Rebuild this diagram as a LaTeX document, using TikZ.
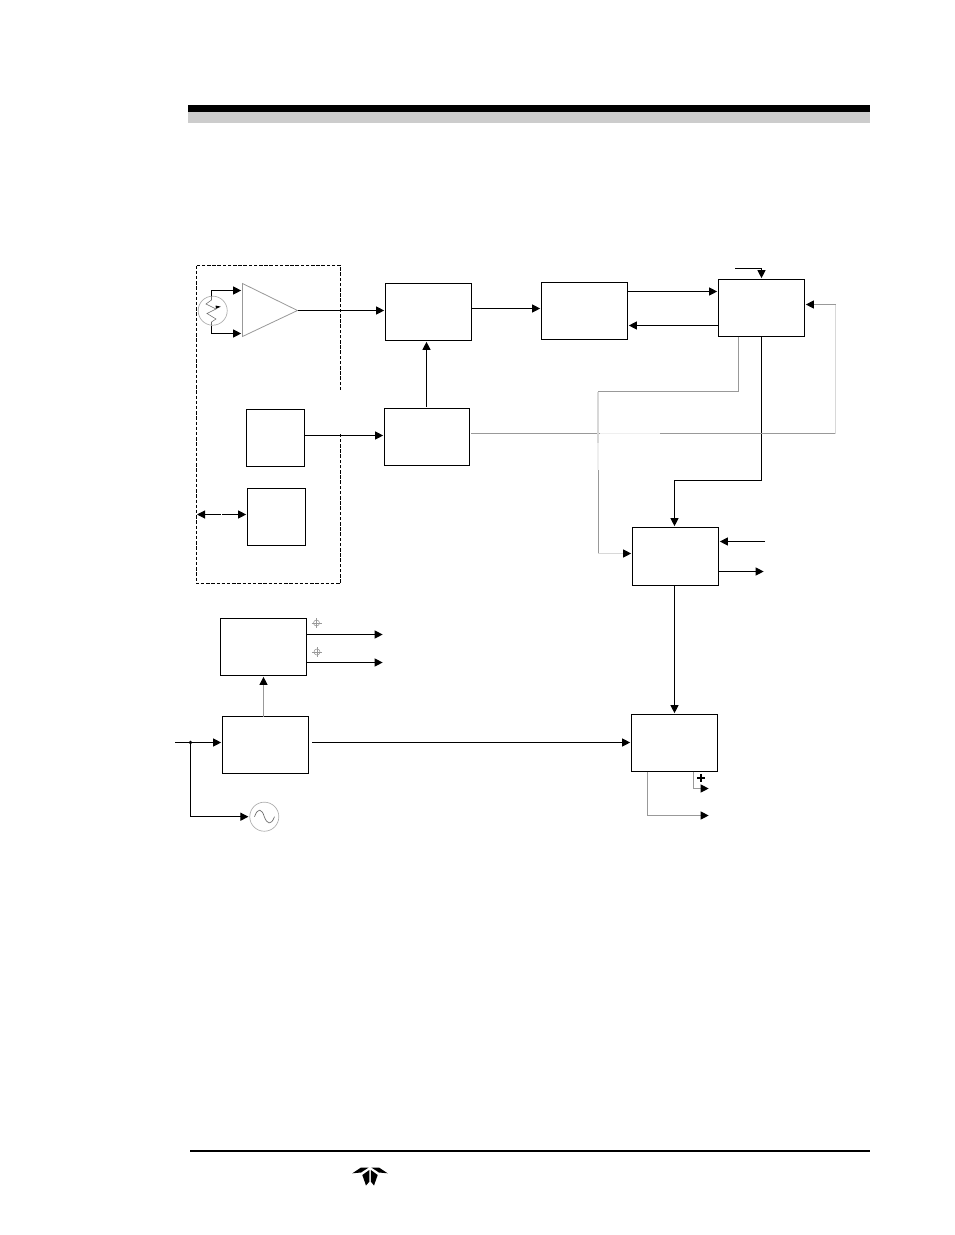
\documentclass[tikz,border=0pt]{standalone}
\usetikzlibrary{arrows.meta,calc}
\definecolor{wire}{HTML}{999999}
\definecolor{pale}{HTML}{D8D8D8}
\definecolor{faint}{HTML}{EFEFEF}
\tikzset{
  blk/.style={draw=black,line width=0.85pt,fill=white,inner sep=0pt,outer sep=0pt,minimum height=42.75pt},
  wide/.style={blk,minimum width=64.5pt},
  slim/.style={blk,minimum width=43.5pt},
  conn/.style={draw=black,line width=0.8pt,-{Triangle[length=6pt,width=6pt]},shorten >=1pt},
  gconn/.style={draw=wire,line width=0.75pt,-{Triangle[length=6pt,width=6pt,color=black]},shorten >=1pt},
  sym/.style={circle,draw=wire!80,line width=0.5pt,fill=white,inner sep=0pt,outer sep=0pt,minimum size=21.8pt}
}
\begin{document}
\begin{tikzpicture}[x=0.75pt,y=-0.75pt]
\useasboundingbox (0,0) rectangle (954,1235);
% header and footer
\fill[black] (188,105) rectangle (870,111.5);
\fill[black!20] (188,111.5) rectangle (870,123);
\draw[black,line width=1.1pt] (190,1151) -- (870,1151);
% logo
\fill[black] (352.3,1173.3) -- (361,1167.5) -- (368.7,1167.5) -- (361,1172.5) -- cycle;
\fill[black] (387.7,1173.3) -- (379,1167.5) -- (371.3,1167.5) -- (379,1172.5) -- cycle;
\fill[black] (362.3,1175) -- (369.3,1170) -- (369.3,1181.7) -- (366,1185.5) -- cycle;
\fill[black] (377.7,1175) -- (370.9,1170) -- (370.9,1181.7) -- (374,1185.5) -- cycle;
% dashed enclosure
\draw[black,line width=0.75pt,dash pattern=on 2.6pt off 1.3pt] (196.5,265.5) rectangle (340.5,583.5);
\fill[white] (338,390) rectangle (343,432);
% blocks
\node[wide] (A) at (428.5,312) {};
\node[wide,minimum width=63.75pt] (B) at (427,437) {};
\node[slim] (C) at (275.5,438) {};
\node[slim] (D) at (276.5,517) {};
\node[wide] (E) at (584.5,311) {};
\node[wide] (F) at (761.5,308) {};
\node[wide,minimum height=43.5pt] (G) at (675.5,556.5) {};
\node[wide] (H) at (674.5,743) {};
\node[wide] (I) at (263.5,647) {};
\node[wide] (J) at (265.5,745) {};
% amplifier
\coordinate (AMPout) at (297.5,310.5);
\draw[wire,line width=0.6pt,fill=white] (242.5,283.5) -- (AMPout) -- (242.5,336.5) -- cycle;
% sensor and source
\node[sym] (S) at (212.7,310.7) {};
\draw[wire!70!black,line width=0.4pt] (211.5,296) -- (211.5,300) -- (206,304) -- (216,309) -- (207,313.5) -- (216,319) -- (211.5,322) -- (211.5,325.5);
\fill[black] (220.8,306.7) -- (215.5,305.5) -- (216,308.8) -- cycle;
\node[sym] (AC) at (264.3,816.7) {};
\draw[wire!70!black,line width=0.5pt] (254.5,816.7) .. controls (258,807) and (262,809) .. (264.3,816.7) .. controls (267,824) and (271,826) .. (274.5,816.7);
% named ends and bends
\coordinate (inA) at (175,742.5);
\coordinate (tap) at (190.5,742.5);
\coordinate (tapEnd) at (190.5,817.5);
\coordinate (outJ) at (312,742.5);
\coordinate (topF) at (735,268.5);
\coordinate (gin) at (765,541.5);
\coordinate (gout) at (765,571.5);
\coordinate (o1) at (384,634.5);
\coordinate (o2) at (384,662.5);
\coordinate (hp) at (710,788.5);
\coordinate (hn) at (710,815.5);
\coordinate (hpS) at (693.5,771.5);
\coordinate (hnS) at (647.5,771.5);
\coordinate (busL) at (197,514.5);
\coordinate (ba) at (426.5,406.5);
\coordinate (bendFG) at (674.5,480.5);
\coordinate (sT) at (211.5,296);
\coordinate (sB) at (211.5,325.5);
\coordinate (a1) at (242.5,290.5);
\coordinate (a2) at (242.5,333.5);
\coordinate (bOut) at (471,433.5);
\coordinate (bR) at (835.5,433.5);
\coordinate (fR) at (835.5,304.5);
\coordinate (fS) at (738.5,336.5);
\coordinate (r1) at (598,391.5);
\coordinate (r2) at (598,553.5);
% connectors
\draw[conn] (AMPout) -- (AMPout -| A.west);
\draw[conn] ([yshift=1.875pt]C.east) -- ([yshift=1.875pt]C.east -| B.west);
\draw[conn] (ba) -- (ba |- A.south);
\draw[conn] ([yshift=2.625pt]A.east) -- ([yshift=2.625pt]A.east -| E.west);
\draw[conn] ([yshift=14.625pt]E.east) -- ([yshift=14.625pt]E.east -| F.west);
\draw[conn] ([yshift=-13.125pt]F.west) -- ([yshift=-13.125pt]F.west -| E.east);
\draw[conn] (topF) -| (F.north);
\draw[conn] (F.south) |- (bendFG) -- (bendFG |- G.north);
\draw[conn] (gin) -- (gin -| G.east);
\draw[conn] (G.east |- gout) -- (gout);
\draw[conn] (H.north |- G.south) -- (H.north);
\draw[conn] (outJ) -- (outJ -| H.west);
\draw[conn] (inA) -- (inA -| J.west);
\fill[black] (tap) circle (1.8);
\draw[conn] (tap) |- (AC.west);
\draw[gconn] (I.south |- J.north) -- (I.south);
\draw[conn] (I.east |- o1) -- (o1);
\draw[conn] (I.east |- o2) -- (o2);
\draw[conn] (sT) |- (a1);
\draw[conn] (sB) |- (a2);
\draw[conn,{Triangle[length=6pt,width=6pt]}-{Triangle[length=6pt,width=6pt]},shorten <=0pt] (busL) -- (busL -| D.west);
\fill[white] (220.5,513) rectangle (222,516);
% grey connectors
\draw[wire,line width=0.75pt] (bOut) -- (bR);
\draw[faint,line width=0.9pt] (600,433.5) -- (660,433.5);
\draw[pale,line width=0.9pt] (bR) -- (fR);
\draw[gconn] (fR) -- (fR -| F.east);
\draw[wire,line width=0.75pt] (fS) |- (r1);
\draw[pale,line width=0.9pt] (r1) -- (598,443);
\draw[faint,line width=0.9pt] (598,443) -- (598,470);
\draw[wire,line width=0.75pt] (598,470) -- (r2);
\draw[pale,line width=0.9pt] (r2) -- (620,553.5);
\draw[gconn,draw=pale,-{Triangle[length=6pt,width=6pt,color=black]}] (620,553.5) -- (r2 -| G.west);
\draw[gconn] (hnS) |- (hn);
\draw[gconn] (hpS) |- (hp);
% polarity and small marks
\draw[black,line width=0.9pt] (697,778) -- (705,778) (701,774) -- (701,782);
\foreach \n/\px/\py in {m1/316.5/623,m2/317/652}{
  \node[circle,draw=wire,line width=0.4pt,inner sep=0pt,outer sep=0pt,minimum size=4.5pt] (\n) at (\px,\py) {};
  \draw[wire,line width=0.4pt] (\px-5,\py) -- (\px+5,\py) (\px,\py-5) -- (\px,\py+5);
}
\end{tikzpicture}
\end{document}
